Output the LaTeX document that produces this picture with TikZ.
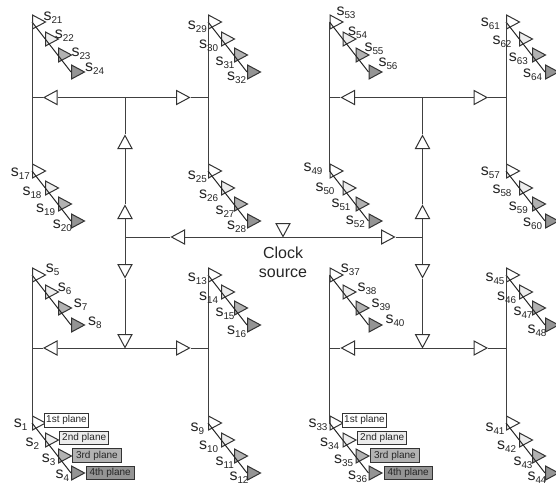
\documentclass[tikz,border=0pt]{standalone}
\usepackage{fontspec}
\usepackage{xcolor}
\setmainfont{Liberation Sans}
\usetikzlibrary{shapes.geometric, positioning, calc}
\newcommand{\sname}[1]{s\raisebox{-2.4pt}{\fontsize{7.4}{8}\selectfont #1}}

\begin{document}
\begin{tikzpicture}[
    x=0.75pt, y=-0.75pt,
    line width=0.75pt,
    buffer/.style={isosceles triangle, isosceles triangle stretches, draw=black!80, fill=white, inner sep=0pt,
        minimum height=9.75pt, minimum width=10.5pt, anchor=lower side},
    wire/.style={draw=black!75},
    slabel/.style={anchor=base west, inner sep=0pt, font=\fontsize{12}{12}\selectfont, text=black!85},
    planebox/.style={rectangle, draw=black!80, line width=0.6pt, inner sep=0pt, minimum height=10pt,
        font=\fontsize{7.5}{8}\selectfont, text=black!85},
    plane1/.style={fill=white},
    plane2/.style={fill=black!7},
    plane3/.style={fill=black!30},
    plane4/.style={fill=black!42}
]
\useasboundingbox (0,0) rectangle (556,482);
\clip (0,0) rectangle (556,482);

% Clock source and middle branch
\coordinate (midl) at (125,237);
\coordinate (midr) at (422.5,237);
\node[buffer, rotate=180] (midla) at (185,237) {};
\node[buffer] (midra) at (381,237) {};
\node[buffer, rotate=-90] (clk) at (283,223) {};
\node[inner sep=0pt, align=center, font=\fontsize{12}{14.25}\selectfont, text=black!85] (clktext) at (283,262) {Clock\\source};
\draw[wire] (midl) -- (midla.apex);
\draw[wire] (midla.lower side) -- (midra.lower side);
\draw[wire] (midra.apex) -- (midr);

% H-trees, one per quadrant
\foreach \h/\cx/\cy in {a/125/97.5, b/422.5/97.5, c/125/348, d/422.5/348} {
    \coordinate (j\h) at (\cx,\cy);
    \coordinate (busl\h) at (\cx-93,\cy);
    \coordinate (busr\h) at (\cx+83.5,\cy);
    \node[buffer, rotate=180] (arml\h) at (\cx-67.5,\cy) {};
    \node[buffer] (armr\h) at (\cx+51,\cy) {};
    \draw[wire] (busl\h) -- (arml\h.apex);
    \draw[wire] (arml\h.lower side) -- (armr\h.lower side);
    \draw[wire] (armr\h.apex) -- (busr\h);
}

% Vertical branches from the middle
\foreach \h/\cx/\m in {a/125/midl, b/422.5/midr} {
    \node[buffer, rotate=90] (upi\h) at (\cx,219) {};
    \node[buffer, rotate=90] (upo\h) at (\cx,149) {};
    \draw[wire] (\m) -- (upi\h.lower side);
    \draw[wire] (upi\h.apex) -- (upo\h.lower side);
    \draw[wire] (upo\h.apex) -- (j\h);
}
\foreach \h/\cx/\m in {c/125/midl, d/422.5/midr} {
    \node[buffer, rotate=-90] (dni\h) at (\cx,264) {};
    \node[buffer, rotate=-90] (dno\h) at (\cx,334) {};
    \draw[wire] (\m) -- (dni\h.lower side);
    \draw[wire] (dni\h.apex) -- (dno\h.lower side);
}

% Leaf buffers
\foreach \n/\gx/\gy in {1/32/423, 5/32/275, 9/208/423, 13/208/275, 17/32/171, 21/32/22, 25/208/171, 29/208/22,
    33/329.5/423, 37/329.5/275, 41/506/423, 45/506/275, 49/329.5/171, 53/329.5/22, 57/506/171, 61/506/22} {
    \pgfmathtruncatemacro{\nb}{\n+1}
    \pgfmathtruncatemacro{\nc}{\n+2}
    \pgfmathtruncatemacro{\nd}{\n+3}
    \node[buffer, plane1] (b\n) at (\gx,\gy) {};
    \node[buffer, plane2] (b\nb) at (\gx+13,\gy+17) {};
    \node[buffer, plane3] (b\nc) at (\gx+26,\gy+33) {};
    \node[buffer, plane4] (b\nd) at (\gx+39,\gy+50) {};
    \draw[draw=black!85] (b\n.lower side) -- (b\nd.lower side);
}

% Buses
\draw[wire] (b21.lower side) -- (b17.lower side);
\draw[wire] (b29.lower side) -- (b25.lower side);
\draw[wire] (b53.lower side) -- (b49.lower side);
\draw[wire] (b61.lower side) -- (b57.lower side);
\draw[wire] (b5.lower side) -- (b1.lower side);
\draw[wire] (b13.lower side) -- (b9.lower side);
\draw[wire] (b37.lower side) -- (b33.lower side);
\draw[wire] (b45.lower side) -- (b41.lower side);

% Labels
\foreach \n/\lx/\ly in {
    1/13.3/427.7, 2/25/446, 3/41.3/462.7, 4/55/478.3,
    5/45.3/272.7, 6/57.3/291, 7/73.3/307.7, 8/87.7/325,
    9/190/431, 10/198.7/449.3, 11/215/465.7, 12/229/480.7,
    13/187.3/281.7, 14/198.7/300, 15/215/316, 16/226.7/334,
    17/10.3/176.7, 18/22/195, 19/35.7/212.3, 20/52.3/228.3,
    21/43/20.7, 22/54.3/38.7, 23/71/56, 24/84.7/71.7,
    25/187.3/179.3, 26/198.7/198.7, 27/215/214.3, 28/226.7/229.3,
    29/187.3/29.3, 30/198.7/48.3, 31/215/65.7, 32/226.7/80.3,
    33/308/427.7, 34/319.7/446.7, 35/333.7/463.3, 36/347.7/479.3,
    37/340.3/272.3, 38/357/291, 39/371/307.3, 40/385/323.3,
    41/485/431, 42/496.7/449.3, 43/513/465.7, 44/527/480.7,
    45/485/281.7, 46/496.7/300, 47/513/315.7, 48/527/333.3,
    49/303/171.7, 50/315/191, 51/331/207.3, 52/345.3/224,
    53/336/15, 54/347.7/35.7, 55/364/51.7, 56/378/66,
    57/480.3/175.7, 58/492/193.3, 59/508.3/210, 60/522.7/226.7,
    61/480.3/26.7, 62/492/44, 63/508.3/61.7, 64/522.7/77.3} {
    \node[slabel] (s\n) at (\lx,\ly) {\sname{\n}};
}

% Plane legend
\foreach \p/\dx in {a/0, b/298} {
    \node[planebox, plane1, minimum width=33.2pt] (first\p) at (66.5+\dx,420.3) {1st plane};
    \node[planebox, plane2, minimum width=36.7pt] (second\p) at (84.2+\dx,438) {2nd plane};
    \node[planebox, plane3, minimum width=36.2pt] (third\p) at (96.9+\dx,455.5) {3rd plane};
    \node[planebox, plane4, minimum width=36.2pt] (fourth\p) at (110.2+\dx,472.7) {4th plane};
}

\end{tikzpicture}
\end{document}
